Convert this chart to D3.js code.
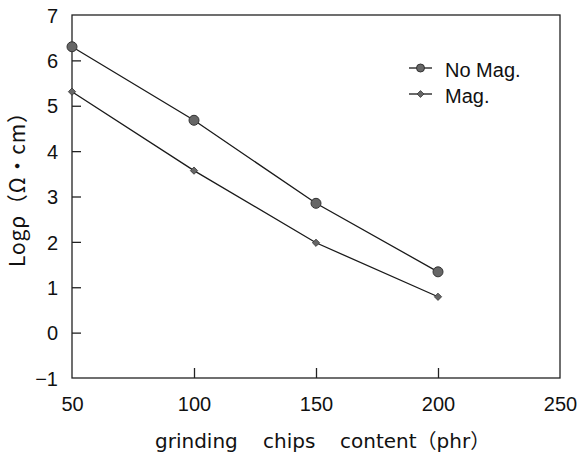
<!DOCTYPE html>
<html>
<head>
<meta charset="utf-8">
<script src="https://cdn.jsdelivr.net/npm/d3@7"></script>
<style>
  html, body { margin: 0; padding: 0; background: #fff; }
  svg { display: block; }
  .tick-label { font-family: "Liberation Sans", Arial, sans-serif; font-size: 20px; fill: #111; }
  .title { font-family: "DejaVu Sans", "Noto Sans CJK JP", sans-serif; font-size: 20px; fill: #111; }
  .ytitle { font-family: "Noto Sans CJK JP", "Noto Sans", sans-serif; font-size: 21px; fill: #111; }
</style>
</head>
<body>
<svg id="chart" width="582" height="453"></svg>
<script>
// Filler content (phr) and log resistivity for each magnetization state
const content = [50, 100, 150, 200];
const noMag = [6.30, 4.68, 2.85, 1.34];
const mag = [5.31, 3.57, 1.98, 0.79];
const xTicks = [50, 100, 150, 200, 250];
const yTicks = [-1, 0, 1, 2, 3, 4, 5, 6, 7];
const seriesNames = ["No Mag.", "Mag."];
const xTitleWords = ["grinding", "chips", "content\uFF08phr\uFF09"];
const yTitle = "Log\u03C1\uFF08\u03A9\u30FBcm\uFF09";

const svg = d3.select("#chart");
const plot = { left: 72, right: 560, top: 15, bottom: 378 };

const x = d3.scaleLinear().domain([50, 250]).range([plot.left, plot.right]);
const y = d3.scaleLinear().domain([-1, 7]).range([plot.bottom, plot.top]);

// Frame
svg.append("rect")
  .attr("x", plot.left).attr("y", plot.top)
  .attr("width", plot.right - plot.left).attr("height", plot.bottom - plot.top)
  .attr("fill", "none").attr("stroke", "#222").attr("stroke-width", 1.3);

// Bottom axis: inward ticks, labels below
const xAxis = d3.axisBottom(x).tickValues(xTicks).tickSize(0).tickPadding(0).tickFormat(d3.format("d"));
const gx = svg.append("g").attr("transform", `translate(0,${plot.bottom})`).call(xAxis);
gx.select(".domain").remove();
gx.selectAll(".tick text").attr("class", "tick-label").attr("y", 19).attr("dy", "0.71em");
gx.selectAll(".tick").filter(d => d > 50 && d < 250)
  .append("line").attr("y1", 0).attr("y2", -10).attr("stroke", "#222").attr("stroke-width", 1.3);

// Left axis: inward ticks, labels left
const yAxis = d3.axisLeft(y).tickValues(yTicks).tickSize(0).tickPadding(0)
  .tickFormat(d => d < 0 ? "\u2212" + Math.abs(d) : d);
const gy = svg.append("g").attr("transform", `translate(${plot.left},0)`).call(yAxis);
gy.select(".domain").remove();
gy.selectAll(".tick text").attr("class", "tick-label").attr("x", -14).attr("dy", "0.36em");
gy.selectAll(".tick").filter(d => d > -1 && d < 7)
  .append("line").attr("x1", 0).attr("x2", 9).attr("stroke", "#222").attr("stroke-width", 1.3);

// X title: words set apart with wide gaps
const wordStart = [155, 263, 340];
svg.append("g").selectAll("text").data(xTitleWords).join("text")
  .attr("class", "title")
  .attr("x", (d, i) => wordStart[i]).attr("y", 448)
  .text(d => d);

// Y title, reading upward
svg.append("text").attr("class", "ytitle")
  .attr("transform", "translate(25,267) rotate(-90)")
  .attr("textLength", 165).attr("lengthAdjust", "spacing")
  .text(yTitle);

// Series
const line = d3.line().x((d, i) => x(content[i])).y(d => y(d));
[noMag, mag].forEach(vals => {
  svg.append("path").datum(vals)
    .attr("d", line).attr("fill", "none")
    .attr("stroke", "#1a1a1a").attr("stroke-width", 1.3);
});

const diamond = d3.symbol().type(d3.symbolDiamond2);

svg.selectAll("circle.nomag").data(noMag).join("circle")
  .attr("class", "nomag")
  .attr("cx", (d, i) => x(content[i])).attr("cy", d => y(d))
  .attr("r", 5).attr("fill", "#666").attr("stroke", "#333").attr("stroke-width", 1);

svg.selectAll("path.mag").data(mag).join("path")
  .attr("class", "mag")
  .attr("d", diamond.size(34))
  .attr("transform", (d, i) => `translate(${x(content[i])},${y(d)})`)
  .attr("fill", "#666").attr("stroke", "#333").attr("stroke-width", 0.8);

// Legend
const legend = svg.append("g").attr("transform", "translate(409,68)");
seriesNames.forEach((name, i) => {
  const row = legend.append("g").attr("transform", `translate(0,${i * 26})`);
  row.append("line").attr("x1", 0).attr("x2", 23).attr("y1", 0).attr("y2", 0)
    .attr("stroke", "#1a1a1a").attr("stroke-width", 1.3);
  if (i === 0) {
    row.append("circle").attr("cx", 11.5).attr("cy", 0).attr("r", 4)
      .attr("fill", "#666").attr("stroke", "#333").attr("stroke-width", 1);
  } else {
    row.append("path").attr("d", diamond.size(30)).attr("transform", "translate(11.5,0)")
      .attr("fill", "#666").attr("stroke", "#333").attr("stroke-width", 0.8);
  }
  row.append("text").attr("class", "tick-label")
    .attr("x", 36).attr("y", 1.5).attr("dy", "0.36em").text(name);
});
</script>
</body>
</html>
